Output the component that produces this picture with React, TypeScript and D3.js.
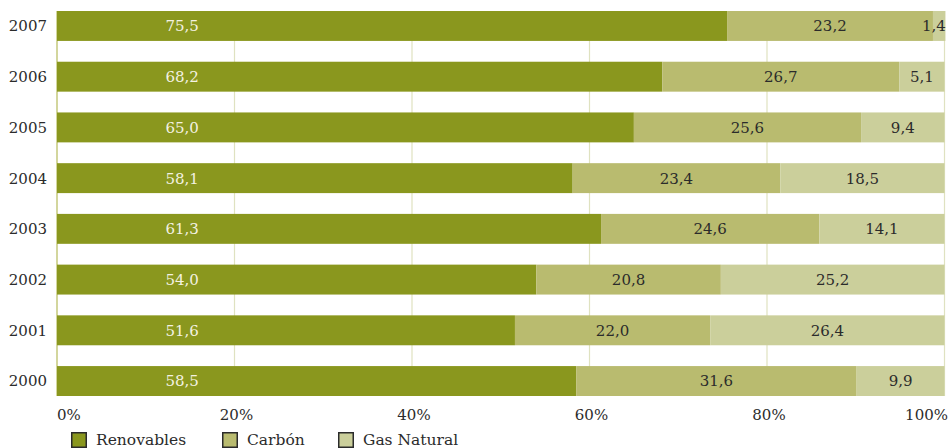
import React from "react";
import * as d3 from "d3";

const years = ["2007", "2006", "2005", "2004", "2003", "2002", "2001", "2000"];
const renovables = [75.5, 68.2, 65.0, 58.1, 61.3, 54.0, 51.6, 58.5];
const carbon = [23.2, 26.7, 25.6, 23.4, 24.6, 20.8, 22.0, 31.6];
const gasNatural = [1.4, 5.1, 9.4, 18.5, 14.1, 25.2, 26.4, 9.9];
const seriesNames = ["Renovables", "Carbón", "Gas Natural"];
const colors = ["#8a971e", "#b9bb6f", "#cbcf9b"];
const textColors = ["#f4f2e2", "#2b2b2b", "#2b2b2b"];
const ticks = [0, 20, 40, 60, 80, 100];

const W = 948;
const H = 448;
const FONT = "'DejaVu Serif', serif";
const fmt = (v: number) => v.toFixed(1).replace(".", ",");

export default function App() {
  const x = d3.scaleLinear().domain([0, 100]).range([57, 944.5]);
  const y = d3.scaleBand().domain(years).range([11, 396]).paddingInner(0.41).paddingOuter(0);
  const data = [renovables, carbon, gasNatural];
  const bw = y.bandwidth();
  const top = y(years[0])!;
  const bottom = y(years[years.length - 1])! + bw;

  return (
    <svg width={W} height={H} style={{ position: "absolute", left: 0, top: 0, background: "#fff" }}>
      {ticks.slice(1).map((t) => (
        <line key={t} x1={x(t)} x2={x(t)} y1={top} y2={bottom} stroke="#dfe2c0" strokeWidth={1.2} />
      ))}
      <line x1={x(0)} x2={x(0)} y1={top} y2={bottom} stroke="#c4c97c" strokeWidth={1.5} />
      {years.map((yr, i) => {
        let acc = 0;
        const yy = y(yr)!;
        return (
          <g key={yr}>
            <text x={47} y={yy + bw / 2} dy="0.36em" textAnchor="end" fontFamily={FONT} fontSize={15} fill="#2b2b2b">
              {yr}
            </text>
            {data.map((s, k) => {
              const v = s[i];
              const x0 = x(acc);
              acc += v;
              const x1 = x(acc);
              const cx = k === 0 ? x(14.1) : (x0 + x1) / 2;
              return (
                <g key={k}>
                  <rect x={x0} y={yy} width={x1 - x0} height={bw} fill={colors[k]} />
                  <text x={Math.min(cx, W - 14)} y={yy + bw / 2} dy="0.36em" textAnchor="middle" fontFamily={FONT} fontSize={15} fill={textColors[k]}>
                    {fmt(v)}
                  </text>
                </g>
              );
            })}
          </g>
        );
      })}
      {ticks.map((t, i) => (
        <text
          key={t}
          x={i === 0 ? x(t) : i === ticks.length - 1 ? W : x(t) + 2}
          y={420}
          textAnchor={i === 0 ? "start" : i === ticks.length - 1 ? "end" : "middle"}
          fontFamily={FONT}
          fontSize={15}
          fill="#2b2b2b"
        >
          {t + "%"}
        </text>
      ))}
      {seriesNames.map((n, k) => {
        const lx = [71, 222, 338][k];
        return (
          <g key={n}>
            <rect x={lx + 0.75} y={432.75} width={14.5} height={14.5} fill={colors[k]} stroke="#2b2b2b" strokeWidth={1.5} />
            <text x={lx + 25} y={445} fontFamily={FONT} fontSize={15.5} fill="#2b2b2b">
              {n}
            </text>
          </g>
        );
      })}
    </svg>
  );
}
